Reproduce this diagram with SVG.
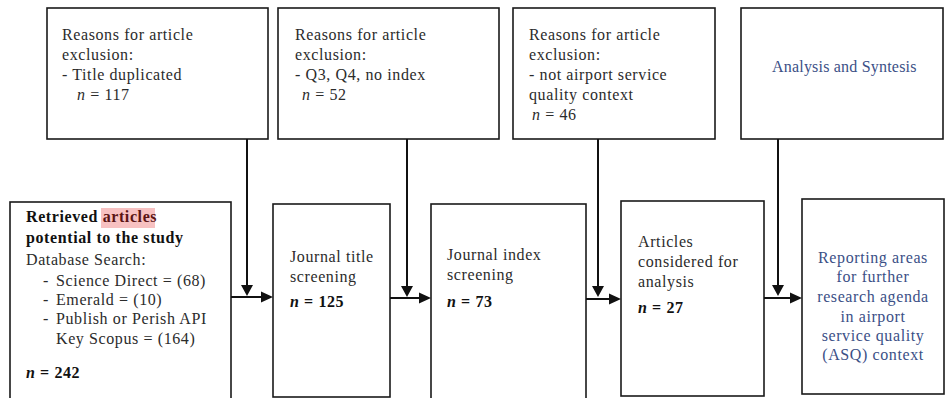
<svg xmlns="http://www.w3.org/2000/svg" width="949" height="398" viewBox="0 0 949 398">
<style>
.box{fill:#fff;stroke:#1a1a1a;stroke-width:1.6}
.t{font-family:"Liberation Serif","Times New Roman",serif;font-size:16px;fill:#2b2b2b;letter-spacing:0.6px}
.b{font-weight:bold;fill:#111}
.i{font-style:italic}
.blue{fill:#3b4f86}
.c{text-anchor:middle}
.ln{stroke:#111;stroke-width:2;fill:none}
.ah{fill:#111}
</style>
<rect width="949" height="398" fill="#fff"/>
<g id="excl1">
<rect class="box" x="47" y="8" width="221" height="131"/>
<text class="t" x="62" y="40">Reasons for article</text>
<text class="t" x="62" y="60">exclusion:</text>
<text class="t" x="62" y="80">- Title duplicated</text>
<text class="t" x="77" y="100"><tspan class="i">n</tspan> = 117</text>
</g>
<g id="excl2">
<rect class="box" x="278" y="8" width="221" height="131"/>
<text class="t" x="295" y="40">Reasons for article</text>
<text class="t" x="295" y="60">exclusion:</text>
<text class="t" x="295" y="80">- Q3, Q4, no index</text>
<text class="t" x="302" y="100"><tspan class="i">n</tspan> = 52</text>
</g>
<g id="excl3">
<rect class="box" x="513" y="8" width="202" height="131"/>
<text class="t" x="529" y="40">Reasons for article</text>
<text class="t" x="529" y="60">exclusion:</text>
<text class="t" x="529" y="80">- not airport service</text>
<text class="t" x="529" y="100">quality context</text>
<text class="t" x="532" y="120"><tspan class="i">n</tspan> = 46</text>
</g>
<g id="analysis">
<rect class="box" x="741" y="8" width="202" height="131"/>
<text class="t blue" x="772" y="72" style="letter-spacing:0.2px">Analysis and Syntesis</text>
</g>
<g id="retrieved">
<rect class="box" x="10" y="202" width="221" height="200"/>
<rect x="101" y="208" width="54" height="20" fill="#f7c1c1"/>
<text class="t b" x="26" y="222">Retrieved <tspan fill="#5a1515">articles</tspan></text>
<text class="t b" x="26" y="243">potential to the study</text>
<text class="t" x="26" y="265">Database Search:</text>
<text class="t" x="43" y="286">-</text>
<text class="t" x="56" y="286">Science Direct = (68)</text>
<text class="t" x="43" y="305">-</text>
<text class="t" x="56" y="305">Emerald = (10)</text>
<text class="t" x="43" y="324">-</text>
<text class="t" x="56" y="324">Publish or Perish API</text>
<text class="t" x="56" y="344">Key Scopus = (164)</text>
<text class="t b" x="26" y="378"><tspan class="i">n</tspan> = 242</text>
</g>
<g id="title-screen">
<rect class="box" x="273" y="204" width="117" height="193"/>
<text class="t" x="290" y="262">Journal title</text>
<text class="t" x="290" y="282">screening</text>
<text class="t b" x="290" y="307"><tspan class="i">n</tspan> = 125</text>
</g>
<g id="index-screen">
<rect class="box" x="431" y="204" width="155" height="200"/>
<text class="t" x="447" y="260">Journal index</text>
<text class="t" x="447" y="280">screening</text>
<text class="t b" x="447" y="307"><tspan class="i">n</tspan> = 73</text>
</g>
<g id="considered">
<rect class="box" x="621" y="201" width="143" height="195"/>
<text class="t" x="624" y="247" dx="14">Articles</text>
<text class="t" x="638" y="267">considered for</text>
<text class="t" x="638" y="287">analysis</text>
<text class="t b" x="638" y="313"><tspan class="i">n</tspan> = 27</text>
</g>
<g id="reporting">
<rect class="box" x="802" y="199" width="142" height="195"/>
<text class="t blue c" x="873" y="263">Reporting areas</text>
<text class="t blue c" x="873" y="282">for further</text>
<text class="t blue c" x="873" y="302">research agenda</text>
<text class="t blue c" x="873" y="322">in airport</text>
<text class="t blue c" x="873" y="341">service quality</text>
<text class="t blue c" x="873" y="360">(ASQ) context</text>
</g>
<g id="connectors">
<path class="ln" d="M247 139V286M231 297H262"/>
<path class="ah" d="M241 285H253L247 296Z M261 291.5L273 297L261 302.5Z"/>
<path class="ln" d="M407 139V287M390 298H420"/>
<path class="ah" d="M401 286H413L407 297Z M419 292.5L431 298L419 303.5Z"/>
<path class="ln" d="M598 139V287M586 299H610"/>
<path class="ah" d="M592 286H604L598 297Z M609 293.5L621 299L609 304.5Z"/>
<path class="ln" d="M778 139V286M764 298H791"/>
<path class="ah" d="M772 285H784L778 296Z M790 292.5L802 298L790 303.5Z"/>
</g>
</svg>
